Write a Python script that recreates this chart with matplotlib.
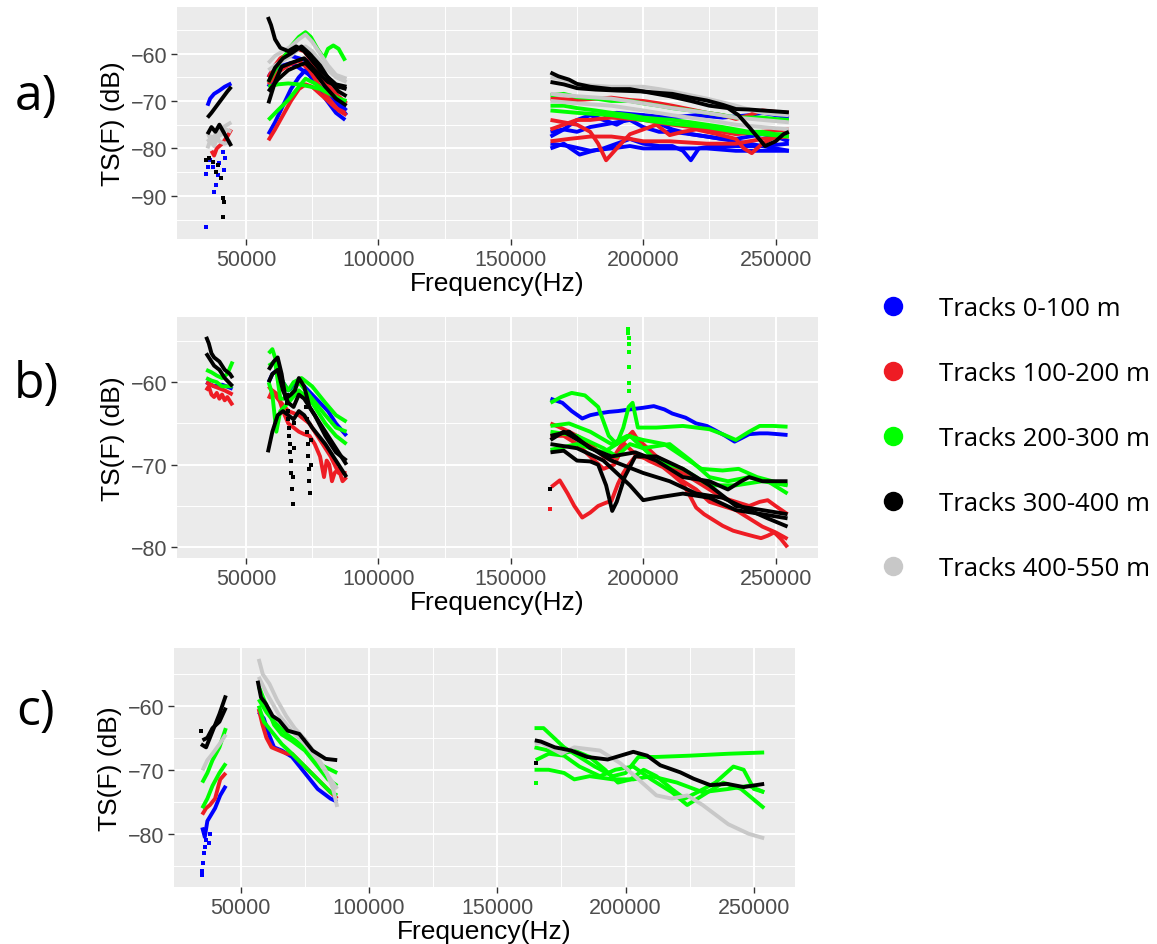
#! /usr/bin/env python3
"""
TS(F) spectra of single-target tracks, grouped by range, for three
frequency bands (38/70/200 kHz transducers).  Three stacked panels a) b) c)
with a shared colour key on the right, ggplot grey look.
"""
import matplotlib.pyplot as plt
from matplotlib.lines import Line2D
import numpy as np

# Range groups and their colours
groups = ['Tracks 0-100 m', 'Tracks 100-200 m', 'Tracks 200-300 m',
          'Tracks 300-400 m', 'Tracks 400-550 m']
group_colours = ['#0000FF', '#EE1C24', '#00FF00', '#000000', '#C8C8C8']

# Each track is (frequency in kHz, TS in dB)

# ---- panel a ----
a_blue = [
    ([35.5, 36.5, 38, 40, 42, 44.5], [-71, -69.5, -68.5, -67.8, -67, -66.3]),
    ([58.5, 61, 64, 67, 70, 72.5, 76, 80, 84, 87.5], [-77, -74.5, -71, -67.5, -65, -63.5, -66, -69.5, -72.5, -74]),
    ([58.5, 61, 64, 67, 70, 73, 77, 81, 85, 88], [-65, -62.5, -61, -60.5, -61, -61.5, -64.5, -67.5, -70.5, -72]),
    ([58.5, 61, 64, 67, 70, 74, 78, 82, 86, 88], [-67, -64.5, -62.5, -62, -63, -64.5, -67, -69, -71.5, -73]),
    ([165, 170, 176, 181, 185, 190, 195, 200, 206, 211, 215, 218, 221, 226, 235, 245, 255],
     [-80, -79, -81.3, -80.5, -80, -79, -78, -79, -79.5, -79.5, -80.5, -82.5, -80, -79.5, -79.5, -79.5, -79]),
    ([165, 170, 175, 180, 185, 190, 195, 200, 206, 211, 218, 224, 230, 235, 240, 245, 250, 255],
     [-76.5, -76, -76.5, -75.5, -75, -74.5, -74, -75.5, -76.5, -76.5, -77, -77.5, -78, -78, -77.5, -77, -77.5, -78.5]),
    ([165, 170, 175, 180, 185, 190, 195, 200, 205, 211, 218, 224, 235, 245, 255],
     [-77.5, -76, -74, -73, -74, -75, -73.5, -73, -74.5, -76, -77, -77.5, -78.5, -79.5, -80.5]),
    ([165, 172, 180, 188, 195, 200, 210, 224, 235, 245, 255],
     [-79, -79.5, -80.5, -80, -79.5, -80, -80, -80, -80.5, -80.5, -80.5]),
    ([185, 190, 200, 210, 220, 230, 240, 245, 250, 255],
     [-73, -72.5, -73, -73.5, -73, -73.5, -73, -72.5, -73, -73.5]),
]
a_red = [
    ([37, 38, 39, 41, 43, 44.5], [-80.5, -81.5, -80, -79, -77.5, -76]),
    ([58.5, 61, 64, 67, 70, 72.5, 75, 78, 81, 84, 87.5], [-78.3, -76, -73, -70, -67.5, -66.5, -67, -68.5, -70, -71.5, -72.5]),
    ([58.5, 61, 63, 66, 69, 72, 76, 80, 84, 88], [-65, -62.5, -61, -60, -59, -59.5, -62.5, -66, -68.5, -70.5]),
    ([58.5, 62, 66, 70, 74, 78, 82, 85, 88], [-66.5, -64, -62.5, -61.5, -63.5, -67, -70, -72, -73]),
    ([165, 175, 183, 188, 195, 200, 206, 211, 218, 224, 230, 235, 240, 245, 250, 255],
     [-69.5, -69.8, -69.5, -69.3, -69.8, -70, -70.5, -71, -71.8, -72.5, -73, -73.8, -73, -72, -72.3, -72.5]),
    ([165, 170, 175, 180, 183, 186, 190, 195, 200, 205, 210, 215, 220, 228, 235, 238, 241, 245, 250, 255],
     [-74, -74.5, -75, -76.5, -79, -82.5, -80, -77, -76, -75, -77.2, -76.5, -76, -77, -78, -80, -81, -79, -77.5, -77]),
    ([165, 170, 175, 180, 188, 195, 200, 205, 211, 218, 224, 230, 235, 245, 255],
     [-76, -75, -74, -74, -73.5, -73.8, -74, -74.5, -75, -75.5, -76, -76.5, -77, -76.5, -76]),
    ([165, 172, 180, 188, 195, 200, 210, 224, 235, 245, 255],
     [-78.5, -78, -77.5, -77.5, -78, -78.5, -78.5, -79, -79, -78, -77.5]),
]
a_green = [
    ([58.5, 61, 64, 67, 70, 72.5, 74.5, 77, 79.5, 81, 83, 85, 87.5],
     [-66, -63.5, -61, -58.5, -56.5, -55.5, -56.5, -59, -61, -59, -58.3, -59, -61.5]),
    ([58.5, 62, 66, 70, 72.5, 76, 80, 84, 87.5], [-74, -72, -69.8, -67, -65.3, -66.3, -68, -69.2, -70.2]),
    ([58.5, 62, 66, 70, 74.5, 78, 82, 85, 88], [-67, -66.5, -66.3, -66.5, -67, -67.5, -68.5, -69.5, -70]),
    ([165, 170, 175, 182, 188, 195, 200, 206, 211, 218, 224, 230, 235, 240, 245, 250, 255],
     [-68.8, -68.5, -69.2, -69.5, -70, -70, -70.5, -71, -71.5, -72, -72.5, -73, -73.5, -73.5, -73.5, -73.8, -74]),
    ([165, 170, 175, 182, 188, 195, 200, 206, 211, 218, 224, 230, 235, 240, 245, 250, 255],
     [-71, -71, -71.5, -72, -72.5, -73, -73.5, -73.8, -74, -74.5, -75, -75.5, -76, -76.5, -76.5, -77, -77]),
    ([165, 175, 188, 200, 211, 224, 235, 245, 255], [-72, -72.5, -73, -74, -74.8, -75.5, -76.5, -77, -77.5]),
]
a_black = [
    ([35.5, 37, 39, 41, 43, 44.5], [-73.5, -72.5, -71, -69.5, -68, -67]),
    ([35.5, 37, 38.5, 40, 42, 43.5, 44.5], [-77, -75.5, -76.5, -75, -77, -78.5, -79.5]),
    ([58.3, 59.5, 61, 63, 66, 69, 72, 75, 78, 81, 84, 88],
     [-52.3, -54, -57, -58.8, -59.5, -58.5, -59.5, -61.5, -63.5, -65, -66.5, -67]),
    ([58.5, 61, 63.5, 67, 72, 76, 81, 85, 88], [-70.5, -66, -62.8, -62, -61, -63.5, -66, -67, -67.5]),
    ([58.5, 61, 64, 67, 71, 74, 78, 82, 85, 88], [-66, -63, -61, -60, -58.5, -60, -62.5, -66, -68, -69]),
    ([58.5, 62, 66, 70, 72.5, 76, 80, 84, 88], [-68, -65.5, -63.5, -62.5, -62, -64, -67, -69.5, -71]),
    ([165, 168, 172, 175, 180, 188, 195, 200, 206, 211, 218, 224, 230, 235, 240, 245, 250, 255],
     [-64, -64.8, -65.5, -66.4, -67, -67.5, -67.5, -68, -68.3, -68.5, -69.3, -69.9, -70.8, -71.7, -71.8, -72, -72.2, -72.4]),
    ([165, 170, 175, 182, 190, 200, 210, 218, 225, 232, 236, 240, 243, 246, 250, 253, 255],
     [-66, -66.5, -67.3, -67.6, -67.8, -68, -69, -70, -71, -71.5, -73, -75.5, -77.5, -79.5, -78.5, -77, -76.5]),
]
a_gray = [
    ([35.5, 37, 38.5, 40, 41.5, 43, 44.5], [-80, -77.5, -78, -76.5, -75.5, -75, -74.5]),
    ([35.5, 37, 38.5, 40, 42, 44.5], [-78, -79, -77, -78.5, -79, -78.5]),
    ([35.5, 36.5, 38, 39.5, 41, 42.5, 44.5], [-76.5, -78, -79.5, -77.5, -77, -76, -76.5]),
    ([58.5, 61, 64, 67, 70, 72.5, 75, 78, 81, 84, 88],
     [-62, -60.5, -59.5, -58.5, -57, -56, -57.5, -60, -62.5, -64.5, -65.3]),
    ([58.5, 61, 64, 67, 70, 72.5, 75, 78, 81, 84, 88],
     [-63.5, -62.5, -61.5, -60.5, -59, -58.5, -59.5, -61.5, -63.5, -65, -66]),
    ([165, 170, 175, 182, 188, 195, 200, 206, 211, 218, 224, 230, 235, 240, 245, 250, 255],
     [-65, -65.5, -66.5, -66.8, -67, -67, -67, -67.5, -68, -68.8, -69.5, -70.3, -71, -71.8, -72.5, -72.8, -73]),
    ([165, 175, 188, 200, 211, 224, 235, 245, 255], [-68.5, -69, -69.5, -70.5, -71.5, -72.5, -73.5, -74, -74.5]),
    ([165, 175, 188, 200, 211, 224, 235, 245, 255], [-70, -70.5, -71, -72, -73, -74, -75, -75.5, -76]),
]
# scattered single detections (no continuous track)
a_blue_pts = ([35.0, 35.1, 35.6, 36.5, 37.5, 38.1, 38.7, 39.3, 40.0, 41.2, 41.9, 42.3],
              [-96.5, -85.3, -84, -82.5, -84, -89.1, -87.7, -85.5, -83, -80.7, -84.6, -82])
a_black_pts = ([35.0, 36.2, 37.5, 38.7, 39.4, 40.6, 41.2, 41.9, 41.2],
               [-82.5, -82, -82.8, -84.9, -83.5, -86.3, -90.5, -91.2, -94.4])

# ---- panel b ----
b_blue = [
    ([35, 38, 41, 45], [-60, -60.5, -60.3, -60.8]),
    ([58.6, 60, 62, 64, 66, 68, 70, 72, 75, 78, 81, 84, 88],
     [-60, -59, -58.5, -60, -61, -60.5, -60, -60.5, -61.5, -62.5, -63.5, -65, -66.5]),
    ([165, 169.5, 173, 177, 180, 183, 187, 190.5, 195, 200, 204, 208, 211, 216, 220, 224, 227, 231, 234.5,
      237, 240, 244, 247, 251, 254.5],
     [-62, -62.5, -63.5, -64.4, -64, -63.8, -63.6, -63.5, -63.3, -63.1, -62.9, -63.3, -63.8, -64.3, -65, -65.3,
      -65.8, -66.5, -67.2, -66.8, -66.3, -66.2, -66.2, -66.3, -66.4]),
]
b_red = [
    ([35, 36, 37, 38, 39, 40, 41, 42, 43, 44, 45],
     [-61, -60.5, -61.5, -61.8, -61.3, -62, -61.5, -62.2, -61.8, -62.3, -62.8]),
    ([35, 38, 42, 45], [-60, -60.5, -61, -61.5]),
    ([58.6, 60, 62, 64, 66, 68, 70, 72, 74, 76, 78, 79.5, 80.5, 81.5, 82.5, 83.5, 85, 86.5, 88],
     [-62, -61, -61.5, -63.5, -65, -65.5, -66, -66.3, -66.5, -67.5, -69, -71.5, -69.5, -70, -72, -71, -70.5, -72, -71.5]),
    ([58.6, 62, 66, 70, 74, 78, 82, 85, 88], [-60.5, -62, -63.5, -64, -65, -67, -69, -71, -71]),
    ([165.3, 168.5, 171.5, 174, 177, 180, 183, 186, 188, 190.5, 192.5, 194.5, 196.5, 198, 202, 207.5, 211, 215,
      218, 220, 223, 226, 230, 234, 238.5, 242, 244.5, 247, 249.5, 252, 254.5],
     [-72.7, -71.9, -73.5, -75, -76.4, -75.8, -75, -74.6, -74.4, -72.3, -71, -70, -69.2, -68.7, -69.5, -70.3,
      -71.2, -72.3, -74, -75.2, -76, -76.6, -77.4, -78, -78.4, -78.7, -78.9, -78.6, -78.2, -79, -80]),
    ([165, 168, 172, 175, 180, 185, 188, 190, 193, 196, 198, 200, 205, 210, 215, 220, 225, 230, 235, 240, 244,
      247, 250, 254.5],
     [-65, -65.4, -66, -66.5, -67.5, -69, -69.5, -68.5, -67, -66, -67, -67.5, -69, -70, -71, -72, -73, -74, -74.5,
      -75, -74.5, -74.3, -75, -76]),
    ([165, 170, 175, 180, 185, 189, 193, 198, 205, 210, 215, 220, 225, 230, 235, 240, 245, 250, 254.5],
     [-66.5, -66.5, -67.5, -69, -70.5, -70, -67.5, -69, -69.5, -70.5, -72, -73, -74.5, -75, -75.5, -76.5, -77.5,
      -78.2, -79]),
]
b_green = [
    ([35, 37, 39, 41, 43, 45], [-58.5, -58.8, -59.2, -59.5, -59, -57.5]),
    ([35, 37, 39, 41, 43, 45], [-59.5, -59.8, -60, -60.5, -60.5, -60.5]),
    ([58.6, 60, 62, 64, 66, 68, 71, 75, 80, 84, 88], [-56.5, -56, -58, -60, -61, -60, -59.5, -60.5, -62.5, -64, -64.8]),
    ([58.6, 61, 63, 66, 70, 75, 80, 84, 88], [-58, -57.5, -62, -62, -60, -62, -64, -65.5, -66]),
    ([58.6, 60, 61.5, 63, 66, 70, 75, 80, 84, 88], [-60, -61.5, -66, -63.5, -62.5, -61, -62.5, -65, -66.5, -67.5]),
    ([165, 169, 173, 178, 183, 187, 190, 192.5, 194.5, 196, 198, 205, 215, 225, 230, 235, 240, 244, 249, 254.5],
     [-62.5, -61.8, -61.3, -61.6, -63, -66.5, -67.5, -65.5, -63, -62.5, -65.5, -65.5, -65.3, -65.7, -66.3, -67,
      -66, -65.3, -65.3, -65.4]),
    ([165, 172, 180, 188, 194, 200, 208, 215, 222, 230, 236, 243, 254.5],
     [-65.3, -65, -66, -67.5, -66.5, -67, -67.5, -69, -70.5, -70.7, -70.5, -71.5, -72.5]),
    ([165, 175, 185, 190, 195, 200, 210, 218, 225, 232, 240, 247, 254.5],
     [-66, -66.5, -68, -69, -67.5, -68, -67.5, -69.5, -71.5, -72, -71.5, -72, -73.5]),
    ([165, 175, 185, 195, 205, 215, 225, 235, 245, 254.5],
     [-68.2, -67.5, -68.5, -66.5, -69.5, -70.5, -72.5, -72.5, -72, -72.5]),
]
b_black = [
    ([35, 36, 37, 38, 40, 42, 44, 45], [-54.5, -55.3, -56.5, -57, -57.5, -58.5, -59, -59.5]),
    ([35, 37, 38, 40, 42, 45], [-56.5, -57.5, -58, -58.5, -59.5, -60.5]),
    ([58.6, 60.5, 62, 63.5, 65, 67, 68.5, 70, 72, 74, 77, 80, 84, 88],
     [-58.5, -57.5, -57, -59, -62, -61.5, -61, -59.5, -60.5, -63, -64.5, -66, -68, -70]),
    ([58.3, 60, 62, 64, 66, 68, 70, 72, 75, 80, 84, 88],
     [-68.5, -66, -64, -63.5, -64, -64.5, -63.5, -64, -65.5, -67.5, -69.5, -71.5]),
    ([58.6, 60, 62, 64, 66, 68, 70, 72, 76, 80, 84, 88],
     [-60, -59, -58.5, -61, -62.5, -63, -61.5, -62, -64, -66.5, -68.5, -69.5]),
    ([165, 170, 175, 180, 183, 186, 188.3, 190, 193, 197, 205, 215, 225, 235, 245, 254.5],
     [-68.5, -68.3, -69.5, -69.6, -70, -72.5, -75.6, -74.5, -71.5, -69, -69, -70.5, -72.5, -75, -75.5, -76]),
    ([165, 170, 178, 188, 200, 210, 220, 230, 240, 247, 254.5],
     [-67, -66, -67.5, -69.5, -71, -72, -73.5, -74, -75.5, -76.5, -77.5]),
    ([165, 172, 180, 188, 197, 205, 215, 225, 232, 237, 240, 245, 254.5],
     [-66.5, -66, -68, -69, -68.5, -69.5, -71.5, -72, -73, -72, -71.5, -72, -72]),
    ([165, 175, 185, 195, 200, 205, 215, 225, 235, 245, 254.5],
     [-67.5, -68, -69.5, -72.5, -74.3, -74, -73.5, -74, -75.5, -76, -76.5]),
]
b_red_pts = ([165.0], [-75.4])
b_green_pts = ([194.4, 194.4, 194.5, 194.5, 194.5, 194.6, 194.6, 194.6],
               [-53.5, -54.0, -54.6, -55.4, -56.4, -58.2, -60.1, -61.1])
# two narrow dips seen as columns of dots
b_black_pts = ([165.0,
                65.4, 65.6, 65.8, 66.0, 66.2, 66.4, 66.6, 66.8, 67.0, 67.2, 67.4, 67.6, 67.8, 68.0, 68.2,
                72.8, 73.0, 73.2, 73.4, 73.6, 73.8, 74.0, 74.2, 74.4, 74.6],
               [-73,
                -61.5, -62.5, -63.5, -64.5, -65.5, -66.5, -67.5, -68.5, -69.5, -71, -73, -74.8, -71.5, -68, -65,
                -63, -64.5, -66, -67.5, -69, -70.5, -72, -73.4, -70, -67])

# ---- panel c ----
c_blue = [
    ([35, 36, 37, 38.5, 40, 42, 44.2], [-79, -80.5, -78, -77, -76, -74, -72.5]),
    ([57, 59, 61, 63, 66, 70, 75, 80, 85, 87.6], [-61, -62, -64.5, -66.5, -67, -68, -70.5, -73, -74.5, -75]),
]
c_red = [
    ([35, 36.5, 38, 40, 42, 44.2], [-77, -76, -75.5, -74.5, -71.5, -70.5]),
    ([57, 58.5, 60, 62, 65, 68, 70, 75, 80, 85, 87.6],
     [-60.5, -63, -65, -66.5, -67, -67.5, -67.5, -69.5, -71.5, -73.5, -74.5]),
]
c_green = [
    ([35, 37, 39, 41.7, 44.2], [-72, -70.5, -68.5, -66.5, -63.5]),
    ([35, 37, 39, 41.7, 44.2], [-76, -74.5, -72.5, -70.5, -69]),
    ([57, 60, 63, 66, 70, 75, 80, 84, 87.6], [-57, -60, -63, -64.5, -65.5, -67, -69.5, -71.5, -72.5]),
    ([57, 59, 62, 66, 70, 75, 80, 85, 87.6], [-60, -62.5, -64, -66, -67.5, -69.5, -71.5, -73.5, -74]),
    ([57, 60, 63, 68, 75, 80, 87.6], [-59, -61, -62.5, -64.5, -66.5, -69, -70.5]),
    ([164.5, 168, 172, 176, 182, 188, 195, 200, 205, 212, 225, 240, 254],
     [-63.5, -63.5, -65, -66.5, -68, -69.5, -71, -70.5, -68, -68, -67.8, -67.5, -67.3]),
    ([164.5, 170, 175, 180, 186, 192, 197, 202, 207, 212, 218, 223, 228, 235, 242, 246, 250, 254],
     [-66.5, -67, -67.5, -67, -68, -70, -72, -71.5, -70, -71, -73, -74.5, -73.5, -72, -69.5, -70, -73, -73.5]),
    ([164.5, 170, 176, 180, 186, 195, 203, 210, 220, 230, 240, 248, 254],
     [-70, -70, -70.5, -71.5, -71, -71.5, -71.5, -71, -72, -73.5, -73, -72.5, -73.5]),
    ([165, 170, 176, 182, 190, 196, 203, 210, 218, 224, 230, 238, 245, 254],
     [-68.5, -67.5, -67.8, -69.5, -71, -70, -69.5, -71.5, -73.5, -75.5, -74, -72, -73, -76]),
]
c_black = [
    ([34.5, 36.5, 39.1, 41.7, 44.2], [-66, -66.5, -63.9, -61.3, -58.4]),
    ([35.1, 37, 39, 41.7, 44.2], [-65.4, -65, -63.5, -62.5, -60.3]),
    ([56.6, 57.9, 59.8, 62.4, 65, 68.3, 72.8, 78, 83.1, 87.6],
     [-56.1, -58.7, -59.7, -61.6, -62.3, -63.9, -64.4, -67, -68.3, -68.5]),
    ([164.6, 167, 172.4, 178.8, 185, 193, 198, 203, 208.4, 213.5, 221.3, 226.5, 233, 239.5, 246, 254],
     [-65.4, -65.6, -66.5, -67, -68, -68.4, -67.8, -67.2, -67.8, -69.3, -70.4, -71.4, -72.4, -72.2, -72.7, -72.2]),
]
c_gray = [
    ([35.1, 37, 39, 41.7, 44.2], [-70.1, -68.5, -67.5, -66, -64.5]),
    ([57, 58.6, 61.2, 64, 67.7, 71, 75.4, 79, 83.1, 86, 87.6],
     [-52.7, -55.1, -56.6, -59, -61.6, -63.5, -65.4, -67.5, -70.1, -73, -75.8]),
    ([57, 60, 65, 70, 75, 80, 85, 87.6], [-55.5, -58, -61.5, -64, -66, -68.5, -71.5, -73]),
    ([164.6, 167, 175, 180, 190, 198, 205, 212, 218, 224, 230, 240, 248, 254],
     [-66, -65.8, -67.5, -66.5, -67, -69, -71.5, -74, -74.5, -74, -75.5, -78.5, -80, -80.7]),
]
c_blue_pts = ([35.0, 35.1, 35.3, 35.6, 36.0, 36.5, 37.5, 38.0],
              [-86.5, -85.8, -84.5, -83, -82, -81, -81.5, -80])
c_green_pts = ([165.0], [-72.0])
c_black_pts = ([165.0, 34.5], [-69.0, -64.0])

BG = '#EBEBEB'
plt.rcParams['font.family'] = ['Liberation Sans', 'DejaVu Sans']


def draw_tracks(ax, tracks, colour):
    for freq, ts in tracks:
        ax.plot(np.array(freq) * 1000, ts, color=colour, lw=2.8,
                solid_joinstyle='round', solid_capstyle='butt', zorder=3)


def draw_points(ax, pts, colour):
    freq, ts = pts
    ax.plot(np.array(freq) * 1000, ts, ls='none', marker='s', ms=3.0,
            mew=0, color=colour, zorder=3)


def style_panel(ax, ylim, yticks, yminor):
    ax.set_facecolor(BG)
    ax.set_xlim(24000, 266000)
    ax.set_ylim(*ylim)
    ax.set_xticks([50000, 100000, 150000, 200000, 250000])
    ax.set_xticks([75000, 125000, 175000, 225000], minor=True)
    ax.set_yticks(yticks)
    ax.set_yticks(yminor, minor=True)
    ax.grid(which='major', color='white', lw=1.4, zorder=0)
    ax.grid(which='minor', color='white', lw=0.7, zorder=0)
    ax.set_axisbelow(True)
    for s in ax.spines.values():
        s.set_visible(False)
    ax.tick_params(which='major', length=4, width=1, color='#333333', pad=3,
                   labelsize=15.5, labelcolor='#4D4D4D')
    ax.tick_params(which='minor', length=0)
    ax.set_xlabel('Frequency(Hz)', fontsize=19, labelpad=1)
    ax.set_ylabel('TS(F) (dB)', fontsize=19, labelpad=4)


fig = plt.figure(figsize=(11.57, 9.45), dpi=100)
ax_a = fig.add_axes([0.1530, 0.7460, 0.5540, 0.2455])
ax_b = fig.add_axes([0.1530, 0.4085, 0.5540, 0.2550])
ax_c = fig.add_axes([0.1504, 0.0603, 0.5367, 0.2529])

blue, red, green, black, gray = group_colours

# panel a
for tracks, col in [(a_blue, blue), (a_red, red), (a_green, green), (a_gray, gray), (a_black, black)]:
    draw_tracks(ax_a, tracks, col)
draw_points(ax_a, a_blue_pts, blue)
draw_points(ax_a, a_black_pts, black)
style_panel(ax_a, (-99.1, -50.2), [-90, -80, -70, -60], [-95, -85, -75, -65, -55])

# panel b
for tracks, col in [(b_blue, blue), (b_red, red), (b_green, green), (b_black, black)]:
    draw_tracks(ax_b, tracks, col)
draw_points(ax_b, b_red_pts, red)
draw_points(ax_b, b_black_pts, black)
draw_points(ax_b, b_green_pts, green)
style_panel(ax_b, (-81.3, -52.1), [-80, -70, -60], [-75, -65, -55])

# panel c
for tracks, col in [(c_blue, blue), (c_red, red), (c_green, green), (c_gray, gray), (c_black, black)]:
    draw_tracks(ax_c, tracks, col)
draw_points(ax_c, c_blue_pts, blue)
draw_points(ax_c, c_green_pts, green)
draw_points(ax_c, c_black_pts, black)
style_panel(ax_c, (-88.3, -51.0), [-80, -70, -60], [-85, -75, -65, -55])

# panel letters
for label, ypix in [('a)', 97), ('b)', 385), ('c)', 712)]:
    fig.text(36 / 1157, 1 - ypix / 945, label, fontsize=36, ha='center', va='center',
             family=['Open Sans', 'DejaVu Sans'])

# shared colour key
handles = [Line2D([], [], ls='none', marker='o', ms=14, mew=0, color=c) for c in group_colours]
fig.legend(handles, groups, loc='upper left', bbox_to_anchor=(880 / 1157, 1 - 297 / 945),
           frameon=False, handlelength=1.0, handletextpad=1.3, labelspacing=1.56,
           borderpad=0, borderaxespad=0,
           prop={'family': ['Open Sans', 'DejaVu Sans'], 'size': 18.5})

fig.savefig('out.png', dpi=100)
